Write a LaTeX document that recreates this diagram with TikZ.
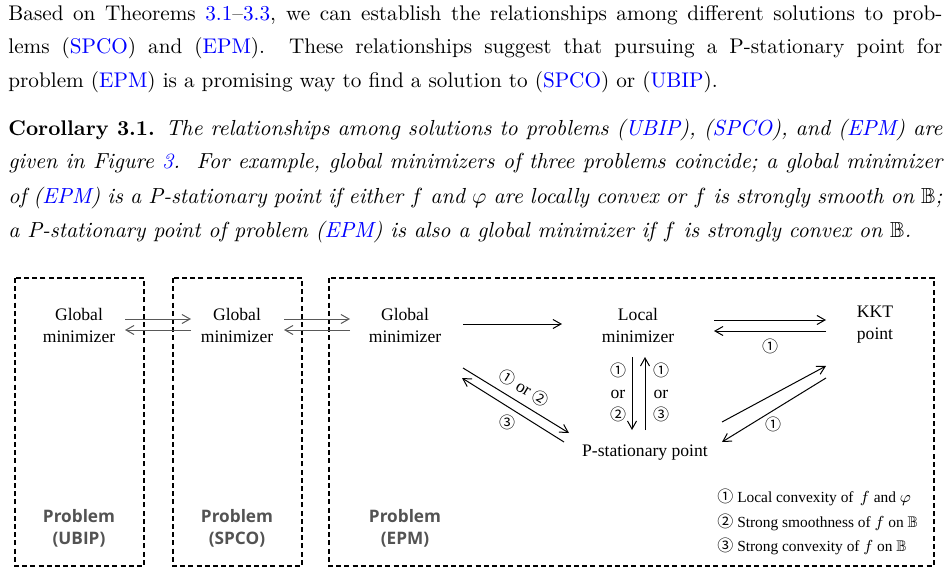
\documentclass[tikz,border=0pt]{standalone}
\usepackage{fontspec}
\usepackage{amssymb}
\usetikzlibrary{arrows.meta}

\newfontfamily\diagfont{Liberation Serif}
\newfontfamily\probfont{Open Sans}
\newfontfamily\circfont{Noto Sans CJK SC}
\newcommand{\cn}[1]{{\circfont\fontsize{8}{8}\selectfont #1}}
\newcommand{\lk}[1]{{\color{blue}#1}}

\begin{document}
\begin{tikzpicture}[x=0.5pt,y=-0.5pt,>={Straight Barb[length=4pt,width=4.5pt]},
    probbox/.style={draw,dash pattern=on 2.5pt off 1.6pt,line width=0.7pt},
    sol/.style={font=\diagfont\fontsize{8.8}{11}\selectfont,align=center,inner sep=0pt},
    probname/.style={font=\probfont\bfseries\fontsize{8.6}{11}\selectfont,text=gray!65!black,align=center},
    imp/.style={->,line width=0.5pt},
    gimp/.style={imp,gray!70!black},
    cond/.style={font=\diagfont\fontsize{8.8}{11}\selectfont,align=center,inner sep=0pt},
    textline/.style={anchor=base west,inner sep=0pt,font=\fontsize{10.6}{17}\selectfont},
    itline/.style={textline,font=\fontsize{10.9}{17}\selectfont\itshape}]

    \useasboundingbox (0,0) rectangle (950,573);

    % 1. Text above the figure
    \node[textline] (t1) at (8,20) {\makebox[467pt][s]{Based on Theorems \lk{3.1}--\lk{3.3}, we can establish the relationships among different solutions to prob-}};
    \node[textline] (t2) at (8,54) {\makebox[467pt][s]{lems (\lk{SPCO}) and (\lk{EPM}).\ \ These relationships suggest that pursuing a P-stationary point for}};
    \node[textline] (t3) at (8,88) {problem (\lk{EPM}) is a promising way to find a solution to (\lk{SPCO}) or (\lk{UBIP}).};

    \node[itline] (c1) at (8,135) {\makebox[467pt][s]{{\upshape\fontsize{10.6}{17}\selectfont\textbf{Corollary 3.1.}} The relationships among solutions to problems (\lk{UBIP}), (\lk{SPCO}), and (\lk{EPM}) are}};
    \node[itline] (c2) at (8,169) {\makebox[467pt][s]{given in Figure \lk{3}.\ \ For example, global minimizers of three problems coincide; a global minimizer}};
    \node[itline] (c3) at (8,203) {\makebox[467pt][s]{of (\lk{EPM}) is a P-stationary point if either $f$ and $\varphi$ are locally convex or $f$ is strongly smooth on $\mathbb{B}$;}};
    \node[itline] (c4) at (8,237) {a P-stationary point of problem (\lk{EPM}) is also a global minimizer if $f$ is strongly convex on $\mathbb{B}$.};

    % 2. Problem boxes
    \draw[probbox] (15,278) rectangle (144,566);
    \draw[probbox] (173,278) rectangle (302,566);
    \draw[probbox] (329,278) rectangle (934,566);

    \node[probname] (ubip) at (79,528) {Problem\\(UBIP)};
    \node[probname] (spco) at (237,528) {Problem\\(SPCO)};
    \node[probname] (epm) at (405,528) {Problem\\(EPM)};

    % 3. Solutions
    \node[sol] (g1) at (79,325) {Global\\minimizer};
    \node[sol] (g2) at (237,325) {Global\\minimizer};
    \node[sol] (g3) at (405,325) {Global\\minimizer};
    \node[sol] (loc) at (638,325) {Local\\minimizer};
    \node[sol] (kkt) at (875,325) {KKT\\point};
    \node[sol] (pst) at (645,453) {P-stationary point};

    % 4. Implications
    \draw[gimp] ([shift={(46,-6)}]g1.center) -- ([shift={(-46,-6)}]g2.center);
    \draw[gimp] ([shift={(-46,5)}]g2.center) -- ([shift={(46,5)}]g1.center);
    \draw[gimp] ([shift={(47,-6)}]g2.center) -- ([shift={(-55,-6)}]g3.center);
    \draw[gimp] ([shift={(-55,5)}]g3.center) -- ([shift={(47,5)}]g2.center);

    \draw[imp] ([shift={(58,-1)}]g3.center) -- ([shift={(-76,-1)}]loc.center);
    \draw[imp] ([shift={(76,-5)}]loc.center) -- ([shift={(-49,-5)}]kkt.center);
    \draw[imp] ([shift={(-49,6)}]kkt.center) -- ([shift={(76,6)}]loc.center);
    \node[cond] (lk1) at (770,346) {\cn{①}};

    \draw[imp] ([shift={(-6,32)}]loc.center) -- ([shift={(-13,-23)}]pst.center);
    \draw[imp] ([shift={(0,-23)}]pst.center) -- ([shift={(7,32)}]loc.center);
    \node[cond] (lp) at (618,392) {\cn{①}\\or\\\cn{②}};
    \node[cond] (pl) at (661,392) {\cn{①}\\or\\\cn{③}};

    \draw[imp] ([shift={(58,43)}]g3.center) -- ([shift={(-76,-20)}]pst.center);
    \draw[imp] ([shift={(-81,-11)}]pst.center) -- ([shift={(57,53)}]g3.center);
    \node[cond,rotate=-31.5] (gp) at (524,388) {\cn{①} or \cn{②}};
    \node[cond] (pg) at (507,422) {\cn{③}};

    \draw[imp] ([shift={(77,-31)}]pst.center) -- ([shift={(-49,41)}]kkt.center);
    \draw[imp] ([shift={(-49,53)}]kkt.center) -- ([shift={(77,-11)}]pst.center);
    \node[cond] (pk) at (773,424) {\cn{①}};

    % 5. Legend
    \node[anchor=west,align=left,inner sep=0pt,font=\diagfont\fontsize{7.7}{12.25}\selectfont] (legend) at (717,522) {\cn{①} Local convexity of\, $f$ and $\varphi$\\\cn{②} Strong smoothness of $f$ on $\mathbb{B}$\\\cn{③} Strong convexity of $f$ on $\mathbb{B}$};

\end{tikzpicture}
\end{document}
